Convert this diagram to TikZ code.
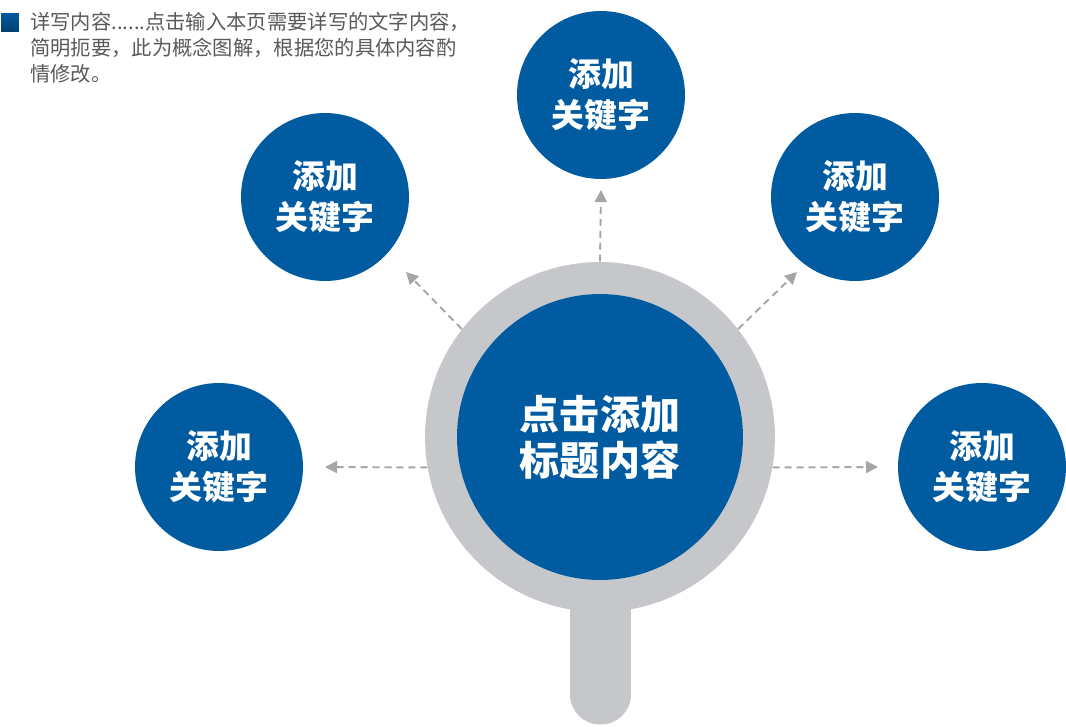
\documentclass[tikz,border=0pt]{standalone}
\usepackage{fontspec}
\newfontfamily\cjk{Noto Sans CJK SC}
\usepackage{xcolor}
\usetikzlibrary{arrows.meta}

\definecolor{kwblue}{RGB}{0,91,161}
\definecolor{ringgray}{RGB}{198,199,202}
\definecolor{arrowgray}{RGB}{166,166,166}
\definecolor{notegray}{RGB}{89,89,89}

\tikzset{
  keyword/.style={circle, fill=kwblue, minimum size=3.36cm, inner sep=0pt,
    align=center, text=white, font=\cjk\bfseries\fontsize{18.7}{23}\selectfont},
  pointer/.style={arrowgray, line width=1.1pt, dash pattern=on 4pt off 2.8pt,
    -{Triangle[length=0.24cm,width=0.24cm]}}
}

\begin{document}
\begin{tikzpicture}[x=0.02cm, y=-0.02cm]
\useasboundingbox (0,0) rectangle (1066,727);

% Note in the corner
\node (mark) at (10,22) [minimum size=0.36cm, inner sep=0pt,
      top color=kwblue, bottom color=kwblue!70!black] {};
\node (note) at (30,12) [anchor=north west, inner sep=0pt, align=left,
      text=notegray, font=\cjk\fontsize{11.55}{14.8}\selectfont]
      {详写内容......点击输入本页需要详写的文字内容，\\
       简明扼要，此为概念图解，根据您的具体内容酌\\
       情修改。};

% Arrow tips
\coordinate (tiptop) at (601,190);
\coordinate (tipul) at (406,272);
\coordinate (tipur) at (797,272);
\coordinate (tipl) at (325,467);
\coordinate (tipr) at (878,467);

% Magnifier
\node (handle) at (600.5,642) [fill=ringgray, minimum width=1.22cm,
      minimum height=3.3cm, rounded corners=0.6cm] {};
\node (ring) at (600,437) [circle, minimum size=7cm, inner sep=0pt] {};

% Pointers
\draw[pointer] (ring.90) -- (tiptop);
\draw[pointer] (ring.142) -- (tipul);
\draw[pointer] (ring.38) -- (tipur);
\draw[pointer] (ring.190) -- (tipl);
\draw[pointer] (ring.-10) -- (tipr);

\fill[ringgray] (ring.center) circle (3.5cm);
\node (lens) at (ring.center) [circle, fill=kwblue, minimum size=5.72cm,
      inner sep=0pt, align=center, text=white,
      font=\cjk\bfseries\fontsize{22.8}{27}\selectfont]
      {点击添加\\[-1pt]标题内容};

% Keywords
\node[keyword] (kwtop) at (601,95) {\raisebox{3pt}{添加}\\[-3pt]关键字};
\node[keyword] (kwul) at (325,197) {\raisebox{3pt}{添加}\\[-3pt]关键字};
\node[keyword] (kwur) at (855,197) {\raisebox{3pt}{添加}\\[-3pt]关键字};
\node[keyword] (kwl) at (219,467) {\raisebox{3pt}{添加}\\[-3pt]关键字};
\node[keyword] (kwr) at (982,467) {\raisebox{3pt}{添加}\\[-3pt]关键字};

\end{tikzpicture}
\end{document}
